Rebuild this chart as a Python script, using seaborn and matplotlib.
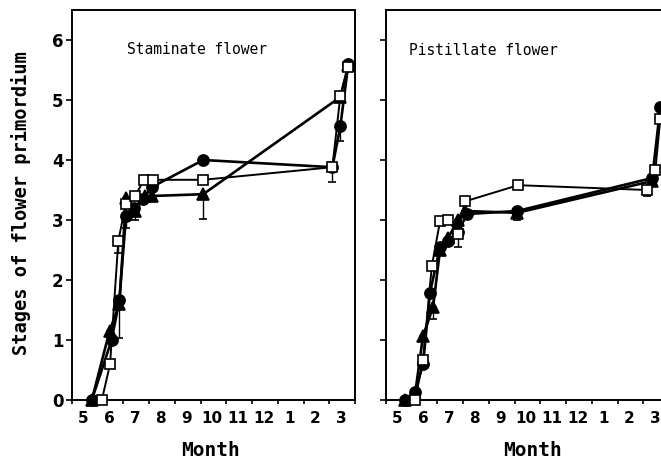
import matplotlib
matplotlib.use("Agg")
import matplotlib.pyplot as plt
import seaborn as sns
import numpy as np

# x positions are in months: 5 = 1 May ... 13 = 1 Jan ... 16 = 1 Apr of next year
month_labels = ['5', '6', '7', '8', '9', '10', '11', '12', '1', '2', '3']

# staminate flower
sta_circle_x = [5.77, 6.54, 6.84, 7.10, 7.40, 7.75, 8.11, 10.10, 15.12, 15.43, 15.74]
sta_circle_y = [0.0, 1.0, 1.66, 3.07, 3.20, 3.35, 3.55, 4.0, 3.88, 4.56, 5.60]
sta_circle_err = [0, 0, 0.63, 0.2, 0, 0, 0, 0, 0, 0.25, 0]

sta_tri_x = [5.77, 6.46, 6.84, 7.10, 7.45, 7.84, 8.11, 10.10, 15.43, 15.74]
sta_tri_y = [0.0, 1.15, 1.60, 3.37, 3.15, 3.40, 3.40, 3.43, 5.05, 5.58]
sta_tri_err = [0, 0, 0, 0, 0.15, 0, 0, 0.41, 0, 0]

sta_sq_x = [6.16, 6.48, 6.80, 7.09, 7.45, 7.80, 8.15, 10.10, 15.12, 15.43, 15.74]
sta_sq_y = [0.0, 0.60, 2.65, 3.27, 3.40, 3.67, 3.67, 3.67, 3.88, 5.07, 5.55]
sta_sq_err = [0, 0, 0.2, 0, 0, 0, 0, 0, 0.25, 0, 0]

# pistillate flower
pis_circle_x = [5.74, 6.13, 6.44, 6.71, 7.10, 7.41, 7.80, 8.15, 10.10, 15.35, 15.66]
pis_circle_y = [0.0, 0.13, 0.60, 1.79, 2.55, 2.65, 2.80, 3.10, 3.15, 3.70, 4.88]
pis_circle_err = [0, 0, 0, 0, 0, 0, 0, 0, 0.15, 0, 0]

pis_tri_x = [5.74, 6.13, 6.44, 6.83, 7.10, 7.41, 7.80, 8.07, 10.10, 15.35]
pis_tri_y = [0.0, 0.10, 1.07, 1.55, 2.50, 2.70, 3.00, 3.15, 3.12, 3.65]
pis_tri_err = [0, 0, 0, 0.2, 0, 0, 0, 0, 0, 0]

pis_sq_x = [6.13, 6.44, 6.78, 7.10, 7.41, 7.80, 8.07, 10.14, 15.16, 15.47, 15.66]
pis_sq_y = [0.0, 0.66, 2.23, 2.98, 3.00, 2.77, 3.31, 3.58, 3.50, 3.83, 4.68]
pis_sq_err = [0, 0, 0, 0, 0, 0.22, 0, 0, 0.1, 0, 0]


# draws one series: line + markers + one-sided error bars
def draw_series(ax, x, y, err, marker, face, size, lw):
    ax.errorbar(x, y, yerr=[err, np.zeros(len(err))], fmt='none', ecolor='black',
                elinewidth=1.0, capsize=3, capthick=1.2, zorder=2, clip_on=False)
    sns.lineplot(x=x, y=y, ax=ax, color='black', linewidth=lw, marker=marker,
                 markersize=size, markerfacecolor=face, markeredgecolor='black',
                 markeredgewidth=1.2, sort=False, estimator=None, clip_on=False,
                 zorder=3)


def style_axes(ax, show_ylabels):
    ax.set_xlim(5, 16)
    ax.set_ylim(0, 6.5)
    ax.set_xticks(np.arange(5, 17))
    ax.set_xticklabels([])
    ax.set_xticks(np.arange(5, 16) + 0.45, minor=True)
    ax.set_xticklabels(month_labels, minor=True, fontsize=11, fontweight='bold')
    ax.tick_params(axis='x', which='major', length=3, width=1.2, direction='out')
    ax.tick_params(axis='x', which='minor', length=0, pad=8)
    ax.set_yticks(range(0, 7))
    if show_ylabels:
        ax.set_yticklabels(range(0, 7), fontsize=12, fontweight='bold')
    else:
        ax.set_yticklabels([])
    ax.tick_params(axis='y', length=4, width=1.2, direction='out', pad=2)
    ax.tick_params(axis='both', which='both', colors='black')
    for s in ax.spines.values():
        s.set_linewidth(1.4)
        s.set_color('black')
    ax.set_xlabel('')
    ax.set_ylabel('')


sns.set_theme(style='ticks', rc={'text.color': 'black', 'axes.edgecolor': 'black',
                                 'xtick.color': 'black', 'ytick.color': 'black',
                                 'axes.labelcolor': 'black'})
plt.rcParams['font.family'] = ['DejaVu Sans']

fig = plt.figure(figsize=(6.61, 4.61), dpi=100)
ax1 = fig.add_axes([72 / 661, 1 - 400 / 461, 283 / 661, 390 / 461])
ax2 = fig.add_axes([386 / 661, 1 - 400 / 461, 283 / 661, 390 / 461])

draw_series(ax1, sta_tri_x, sta_tri_y, sta_tri_err, '^', 'black', 8, 1.9)
draw_series(ax1, sta_circle_x, sta_circle_y, sta_circle_err, 'o', 'black', 8, 1.9)
draw_series(ax1, sta_sq_x, sta_sq_y, sta_sq_err, 's', 'white', 7.5, 1.4)

draw_series(ax2, pis_tri_x, pis_tri_y, pis_tri_err, '^', 'black', 8, 1.9)
draw_series(ax2, pis_circle_x, pis_circle_y, pis_circle_err, 'o', 'black', 8, 1.9)
draw_series(ax2, pis_sq_x, pis_sq_y, pis_sq_err, 's', 'white', 7.5, 1.4)

style_axes(ax1, True)
style_axes(ax2, False)

ax1.text(0.194, 0.9, 'Staminate flower', transform=ax1.transAxes, va='center',
         ha='left', fontsize=10.5, family='DejaVu Sans Mono', color='black')
ax2.text(0.081, 0.897, 'Pistillate flower', transform=ax2.transAxes, va='center',
         ha='left', fontsize=10.5, family='DejaVu Sans Mono', color='black')

fig.text(21 / 661, 1 - 203 / 461, 'Stages of flower primordium', rotation=90,
         va='center', ha='center', fontsize=13.5, fontweight='bold',
         family='DejaVu Sans Mono', color='black')
fig.text(211 / 661, 1 - 450 / 461, 'Month', va='center', ha='center',
         fontsize=14, fontweight='bold', family='DejaVu Sans Mono', color='black')
fig.text(532 / 661, 1 - 450 / 461, 'Month', va='center', ha='center',
         fontsize=14, fontweight='bold', family='DejaVu Sans Mono', color='black')

fig.savefig('out.png', dpi=100)
